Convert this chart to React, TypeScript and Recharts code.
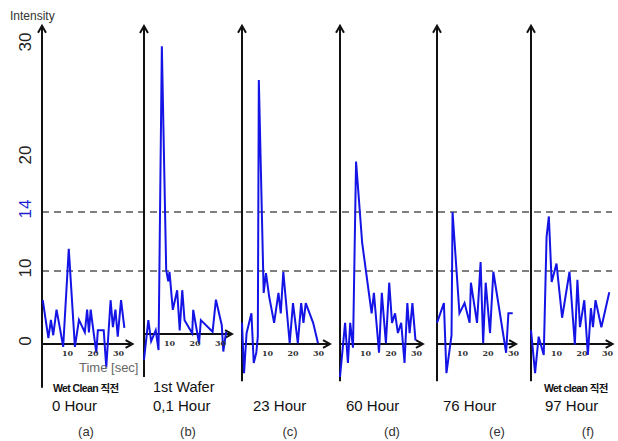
import React from "react";
import { LineChart, Line, XAxis, YAxis, ReferenceLine, ReferenceDot } from "recharts";

// intensity ticks on the shared left axis, dashed guide levels
const Y_TICKS = [0, 10, 14, 20, 30];
const GUIDES = [10, 14];
const X_TICKS = [10, 20, 30];

// (a) Wet Clean 직전, 0 Hour
const A_T = [0.3, 2.5, 3.5, 4.4, 5.7, 7, 8.3, 10.5, 12.9, 14.5, 16.8, 17.7, 18.4, 19.1, 20, 21.3, 21.9, 24.2, 25.2, 26.9, 27.8, 28.8, 29.7, 31, 32.3];
const A_V = [6.0, 0.8, 3.3, 1.2, 4.7, 2.2, -0.4, 11.5, -0.4, 3.3, 1.6, 4.7, 1.6, 4.7, 2.2, -1.2, 1.9, 1.9, -3.2, 6.0, 2.3, 4.7, 1.0, 6.0, 2.2];
// (b) 1st Wafer, 0.1 Hour
const B_T = [0, 1.7, 2.8, 4.6, 5.7, 7, 8.7, 9.5, 10, 11.3, 13, 14, 15, 15.9, 18.9, 19.3, 21.6, 22.3, 26.9, 28.2, 30.5, 31.1, 32.2];
const B_V = [-3.5, 1.9, -1.0, 0.5, -2.2, 29.0, 8.8, 7.2, 8.5, 3.3, 6.0, 0.5, 6.0, 1.9, 0.1, 3.3, -1.3, 1.9, 0.3, 4.7, 1.2, -2.4, 0.3];
// (c) 23 Hour
const C_T = [0, 0.8, 1.8, 3.7, 4.6, 5.6, 6.2, 6.6, 8.5, 9.4, 10.7, 12.6, 14.3, 15.2, 16.2, 17.1, 18.7, 20, 21.9, 23.2, 24.1, 25, 27.9, 29.8];
const C_V = [2.9, -4.0, 1.5, 4.2, -2.6, -1.2, 1.0, 26.9, 7.0, 9.7, 6.4, 2.9, 7.0, 4.2, 9.9, 6.4, 0.1, 5.6, 0.1, 5.6, 2.9, 5.6, 2.9, 0.1];
// (d) 60 Hour
const D_T = [0, 2, 3.1, 4, 5.1, 6.3, 8.7, 12.4, 13.3, 15.3, 16.4, 18, 19.3, 20.4, 21.6, 22.7, 24, 25.3, 26.4, 27.3, 28.4, 29.6];
const D_V = [-4.5, 2.9, -2.6, 2.9, -0.5, 19.6, 11.9, 4.2, 7.0, -1.2, 7.0, 0.1, 8.4, 2.9, 4.2, 1.5, 2.9, -2.6, 5.6, 1.5, 5.6, 0.5];
// (e) 76 Hour
const E_T = [0, 2.7, 3.7, 5.7, 6.1, 8.8, 10.8, 12.8, 13.3, 15.7, 17.1, 18.1, 19.1, 20.8, 22.1, 27.1, 28, 29.7];
const E_V = [2.9, 5.6, -4.0, 1.2, 14.0, 4.2, 5.6, 2.9, 8.4, 2.9, 10.6, 0.1, 8.4, 1.5, 9.9, -1.2, 4.2, 4.2];
// (f) Wet clean 직전, 97 Hour
const F_T = [0, 1.6, 3, 5, 6.1, 7, 8.1, 10, 12.2, 15.1, 17.2, 18.2, 19.2, 20.9, 22.3, 23.5, 24.3, 25.3, 27.6, 30.7];
const F_V = [1.9, -4.0, 1.0, -1.5, 12.3, 13.7, 8.5, 10.5, 3.6, 9.9, -0.1, 8.8, 2.3, 6.0, -1.5, 4.9, 2.3, 6.0, 2.3, 7.1];

const TOP_CAPTIONS = ["Wet Clean 직전", "1st Wafer", "", "", "", "Wet clean 직전"];
const HOURS = ["0 Hour", "0,1 Hour", "23 Hour", "60 Hour", "76 Hour", "97 Hour"];
const LETTERS = ["(a)", "(b)", "(c)", "(d)", "(e)", "(f)"];

const SERIES = [
  [A_T, A_V], [B_T, B_V], [C_T, C_V], [D_T, D_V], [E_T, E_V], [F_T, F_V],
].map(([ts, vs]) => ts.map((t, i) => ({ t, v: vs[i] })));

// panel layout
const PANEL_X = [42, 144, 242, 340, 437, 531];
const PANEL_DY = [0, -10, 0, 0, 0, 0];
const ARROW_END = [35.5, 34.5, 34.5, 32.5, 31, 32];
const AXIS_TOP = [31.7, 30.8, 31.7, 31.7, 31.7, 31.7];
const AXIS_BOTTOM = [-6, -5.9, -5.1, -5.1, -5.1, -5.1];
const TOP_X = [53, 153, 0, 0, 0, 544];
const HOUR_X = [52, 153, 253, 346, 443, 545];
const LETTER_X = [86, 188, 290, 392, 497, 588];

// the source figure's intensity axis is not evenly spaced: piecewise ruler (px above zero)
const KNOT_V = [0, 10, 14, 20, 30];
const KNOT_PX = [0, 73, 132, 186, 299];
function ruler(v: number) {
  if (v <= 0) return v * 7.3;
  for (let i = 1; i < KNOT_V.length; i++) {
    if (v <= KNOT_V[i]) {
      const f = (v - KNOT_V[i - 1]) / (KNOT_V[i] - KNOT_V[i - 1]);
      return KNOT_PX[i - 1] + f * (KNOT_PX[i] - KNOT_PX[i - 1]);
    }
  }
  return 299 + (v - 30) * 11.3;
}
function brokenScale(dom: number[] = [-7, 32], rng: number[] = [1, 0]): any {
  const s: any = (v: number) => {
    const r0 = ruler(dom[0]);
    const r1 = ruler(dom[dom.length - 1]);
    return rng[0] + ((ruler(Number(v)) - r0) / (r1 - r0)) * (rng[rng.length - 1] - rng[0]);
  };
  s.domain = (d?: number[]) => (d === undefined ? dom.slice() : ((dom = d.map(Number)), s));
  s.range = (r?: number[]) => (r === undefined ? rng.slice() : ((rng = r.map(Number)), s));
  s.copy = () => brokenScale(dom.slice(), rng.slice());
  s.ticks = () => Y_TICKS.slice();
  s.tickFormat = () => (v: number) => String(v);
  return s;
}
const Y_SCALE = brokenScale();
const Y_DOMAIN = [-7, 32];
const MARGIN_TOP = 22.4;
const MARGIN_BOTTOM = 45.9;

const FONT = '"Liberation Sans", Arial, "Noto Sans CJK KR", sans-serif';
const INK = "#111";

function Arrow(props: any) {
  const { x1, y1, x2, y2 } = props;
  const ang = Math.atan2(y2 - y1, x2 - x1);
  const L = 8, a = 0.52;
  const p1 = `${x2 - L * Math.cos(ang - a)},${y2 - L * Math.sin(ang - a)}`;
  const p2 = `${x2 - L * Math.cos(ang + a)},${y2 - L * Math.sin(ang + a)}`;
  return (
    <g>
      <line x1={x1} y1={y1} x2={x2} y2={y2} stroke={INK} strokeWidth={2} />
      <polyline points={`${p1} ${x2},${y2} ${p2}`} fill="none" stroke={INK} strokeWidth={2} />
    </g>
  );
}

function YTick({ x, y, payload }: any) {
  const cx = x - 17;
  const cy = y - 3;
  return (
    <text x={cx} y={cy} transform={`rotate(-90 ${cx} ${cy})`} textAnchor="middle" dominantBaseline="central"
      fontSize={17} fontFamily={FONT} fill={payload.value === 14 ? "#1d1dd0" : "#222"}>
      {payload.value}
    </text>
  );
}

function Panel({ i }: { i: number }) {
  return (
    <div style={{ position: "absolute", left: PANEL_X[i] - 6, top: PANEL_DY[i] }}>
      <LineChart width={120} height={441} data={SERIES[i]} margin={{ top: MARGIN_TOP, right: 12, bottom: MARGIN_BOTTOM, left: 6 }}>
        <XAxis type="number" dataKey="t" domain={[0, 40]} hide />
        <YAxis type="number" domain={Y_DOMAIN} scale={Y_SCALE} hide width={0} />
        <ReferenceLine segment={[{ x: 0, y: AXIS_BOTTOM[i] }, { x: 0, y: AXIS_TOP[i] }]} shape={(p: any) => <Arrow {...p} />} />
        <ReferenceLine segment={[{ x: 0, y: 0 }, { x: ARROW_END[i], y: 0 }]} shape={(p: any) => <Arrow {...p} />} />
        {X_TICKS.map((t) => (
          <ReferenceDot key={t} x={t} y={0} r={0}
            shape={(p: any) => (
              <text x={p.cx} y={p.cy + 9} textAnchor="middle" dominantBaseline="central" fontSize={8}
                fontWeight="bold" fontFamily='"DejaVu Serif", serif' fill="#333">{t}</text>
            )} />
        ))}
        <Line type="linear" dataKey="v" stroke="#1414e6" strokeWidth={2} dot={false} isAnimationActive={false} />
      </LineChart>
    </div>
  );
}

const txt = (extra: React.CSSProperties): React.CSSProperties => ({
  position: "absolute", fontFamily: FONT, color: "#111", whiteSpace: "nowrap", lineHeight: 1, ...extra,
});

export default function App() {
  return (
    <div style={{ position: "absolute", left: 0, top: 0, width: 618, height: 441, overflow: "hidden", background: "#fff" }}>
      <div style={{ position: "absolute", left: 0, top: 0 }}>
        <LineChart width={618} height={441} data={[{ t: 0 }, { t: 1 }]} margin={{ top: MARGIN_TOP, right: 6, bottom: MARGIN_BOTTOM, left: 0 }}>
          <XAxis type="number" dataKey="t" domain={[0, 1]} allowDataOverflow hide />
          <YAxis type="number" domain={Y_DOMAIN} scale={Y_SCALE} allowDataOverflow ticks={Y_TICKS} interval={0} width={42}
            axisLine={false} tickLine={false} tickSize={0} tickMargin={0} tick={<YTick />} />
          {GUIDES.map((g) => (
            <ReferenceLine key={g} y={g} stroke="#555" strokeWidth={1.5} strokeDasharray="7 5" />
          ))}
        </LineChart>
      </div>
      {SERIES.map((_, i) => <Panel key={i} i={i} />)}
      <div style={txt({ left: 10, top: 10, fontSize: 12, color: "#333" })}>Intensity</div>
      <div style={txt({ left: 79, top: 361, fontSize: 13, color: "#666" })}>Time [sec]</div>
      {TOP_CAPTIONS.map((c, i) => c ? (
        <div key={"c" + i} style={txt({ left: TOP_X[i], top: i === 1 ? 380 : 383, fontSize: i === 1 ? 14.5 : 10.5, fontWeight: i === 1 ? "normal" : "bold", letterSpacing: i === 1 ? 0 : -0.6 })}>{c}</div>
      ) : null)}
      {HOURS.map((h, i) => (
        <div key={"h" + i} style={txt({ left: HOUR_X[i], top: 398, fontSize: 15 })}>{h}</div>
      ))}
      {LETTERS.map((l, i) => (
        <div key={"l" + i} style={txt({ left: LETTER_X[i] - 10, width: 20, textAlign: "center", top: 425, fontSize: 13, color: "#333" })}>{l}</div>
      ))}
    </div>
  );
}
